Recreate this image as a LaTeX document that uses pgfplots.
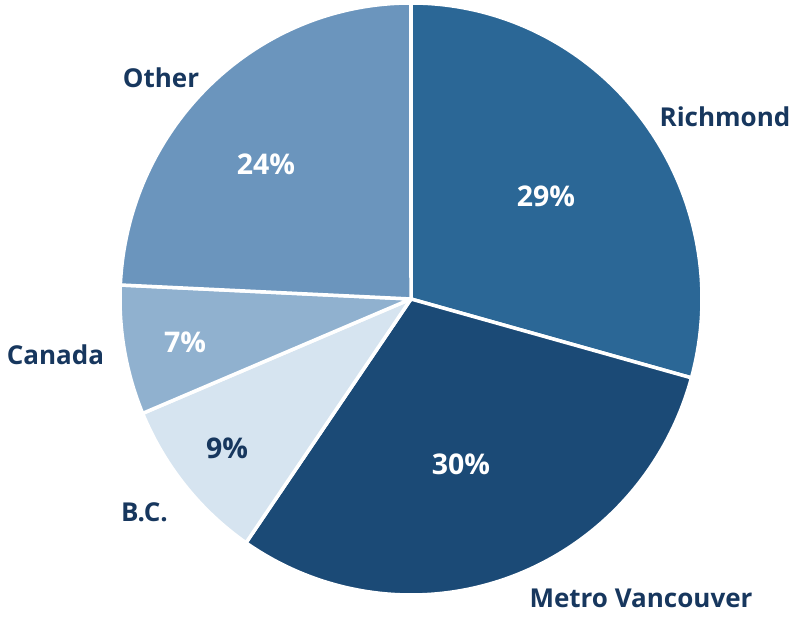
\documentclass[border=0pt]{standalone}
\usepackage{pgfplots}
\pgfplotsset{compat=1.18}
\usepackage{fontspec}
\setmainfont{Open Sans}
\definecolor{navy}{HTML}{17375E}
\definecolor{cRich}{HTML}{2B6796}
\definecolor{cMetro}{HTML}{1B4A76}
\definecolor{cBC}{HTML}{D6E4F0}
\definecolor{cCan}{HTML}{90B1CF}
\definecolor{cOther}{HTML}{6B95BD}
\begin{document}
\begin{tikzpicture}
\begin{axis}[width=792pt,height=618pt,scale only axis,hide axis,
  xmin=-411,xmax=381,ymin=-319,ymax=299,clip=false]
\path (rel axis cs:0,0) rectangle (rel axis cs:1,1);
% shares (percent): Richmond, Metro Vancouver, B.C., Canada, Other
\def\vRich{29}\def\vMetro{30}\def\vBC{9}\def\vCan{7}\def\vOther{24}
\pgfmathsetmacro{\tot}{\vRich+\vMetro+\vBC+\vCan+\vOther}
\def\RX{291}\def\RY{296}
\pgfmathsetmacro{\aA}{90}
\pgfmathsetmacro{\aB}{\aA-\vRich/\tot*360}
\pgfmathsetmacro{\aC}{\aB-\vMetro/\tot*360}
\pgfmathsetmacro{\aD}{\aC-\vBC/\tot*360}
\pgfmathsetmacro{\aE}{\aD-\vCan/\tot*360}
\pgfmathsetmacro{\aF}{\aE-\vOther/\tot*360}
\tikzset{slice/.style={draw=white,line width=3.5pt,line join=round}}
\filldraw[slice,fill=cRich] (axis cs:0,0) -- (axis cs:{\RX*cos(\aA)},{\RY*sin(\aA)}) arc[start angle=\aA,end angle=\aB,x radius=\RX,y radius=\RY] -- cycle;
\filldraw[slice,fill=cMetro] (axis cs:0,0) -- (axis cs:{\RX*cos(\aB)},{\RY*sin(\aB)}) arc[start angle=\aB,end angle=\aC,x radius=\RX,y radius=\RY] -- cycle;
\filldraw[slice,fill=cBC] (axis cs:0,0) -- (axis cs:{\RX*cos(\aC)},{\RY*sin(\aC)}) arc[start angle=\aC,end angle=\aD,x radius=\RX,y radius=\RY] -- cycle;
\filldraw[slice,fill=cCan] (axis cs:0,0) -- (axis cs:{\RX*cos(\aD)},{\RY*sin(\aD)}) arc[start angle=\aD,end angle=\aE,x radius=\RX,y radius=\RY] -- cycle;
\filldraw[slice,fill=cOther] (axis cs:0,0) -- (axis cs:{\RX*cos(\aE)},{\RY*sin(\aE)}) arc[start angle=\aE,end angle=\aF,x radius=\RX,y radius=\RY] -- cycle;
\tikzset{lab/.style={font=\fontsize{26}{30}\selectfont\bfseries,text=navy,anchor=base,inner sep=1pt},
  pct/.style={font=\fontsize{28.5}{32}\selectfont\bfseries,text=white,anchor=base,inner sep=1pt}}
\node[lab] at (axis cs:314,172) {Richmond};
\node[lab] at (axis cs:230,-309) {Metro Vancouver};
\node[lab] at (axis cs:-266.5,-223) {B.C.};
\node[lab] at (axis cs:-355.5,-66) {Canada};
\node[lab] at (axis cs:-250,211) {Other};
\node[pct] at (axis cs:135,92) {29\%};
\node[pct] at (axis cs:50,-176) {30\%};
\node[pct,text=navy] at (axis cs:-184,-160) {9\%};
\node[pct] at (axis cs:-226,-54) {7\%};
\node[pct] at (axis cs:-145,124) {24\%};
\end{axis}
\end{tikzpicture}
\end{document}
